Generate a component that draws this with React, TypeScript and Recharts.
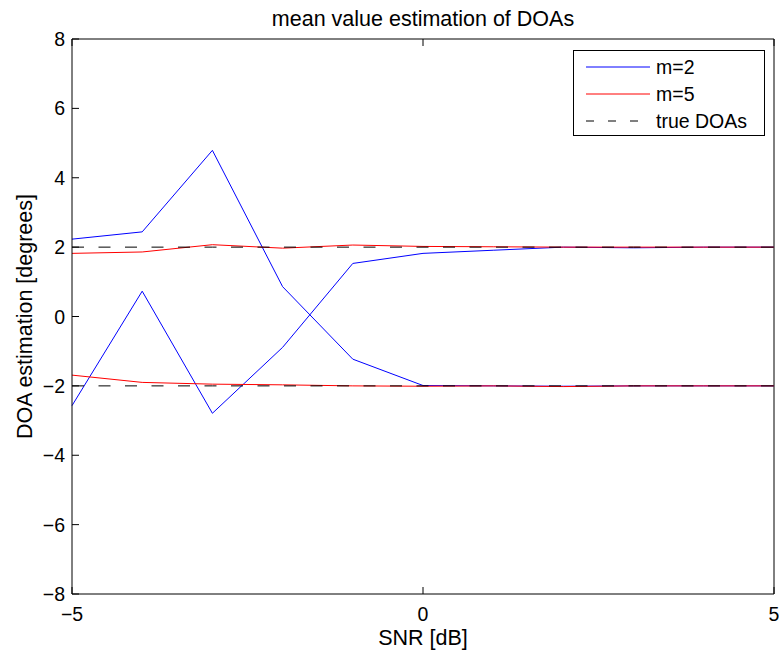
import React from 'react';
import { LineChart, Line, XAxis, YAxis } from 'recharts';

// SNR grid (dB)
const snr = [-5, -4, -3, -2, -1, 0, 1, 2, 3, 4, 5];

// Mean DOA estimates (degrees), one array per source
const m2First = [2.23, 2.44, 4.79, 0.86, -1.23, -1.99, -2.0, -2.01, -2.0, -2.0, -2.0];
const m2Second = [-2.57, 0.73, -2.79, -0.89, 1.53, 1.82, 1.91, 2.0, 1.98, 2.0, 2.0];
const m5First = [1.82, 1.86, 2.07, 1.97, 2.06, 2.02, 2.01, 2.0, 2.0, 2.0, 2.0];
const m5Second = [-1.69, -1.9, -1.95, -1.97, -2.0, -2.01, -2.0, -2.02, -2.0, -2.0, -2.0];
const trueDoas = [2, -2];

const xTicks = [-5, 0, 5];
const yTicks = [-8, -6, -4, -2, 0, 2, 4, 6, 8];

const titleText = 'mean value estimation of DOAs';
const xLabel = 'SNR [dB]';
const yLabel = 'DOA estimation [degrees]';

const legendItems = [
  { name: 'm=2', color: '#0000ff', dash: undefined as string | undefined },
  { name: 'm=5', color: '#ff0000', dash: undefined as string | undefined },
  { name: 'true DOAs', color: '#000000', dash: '8 14' },
];

const rows = snr.map((s, i) => ({
  snr: s,
  a1: m2First[i],
  a2: m2Second[i],
  b1: m5First[i],
  b2: m5Second[i],
  t1: trueDoas[0],
  t2: trueDoas[1],
}));

const FONT = '"Liberation Sans", Arial, Helvetica, sans-serif';
const TICK_FONT = 19.5;
const LABEL_FONT = 21.5;
const TICK_LEN = 7;

const W = 779;
const H = 653;
const PLOT_LEFT = 72;
const PLOT_RIGHT = 774;
const PLOT_TOP = 39;
const PLOT_BOTTOM = 594;

const fmt = (v: number) => (v < 0 ? '\u2212' + Math.abs(v) : String(v));

const BottomTick = (props: any) => {
  const { x, y, payload } = props;
  return (
    <g>
      <line x1={x} x2={x} y1={y} y2={y - TICK_LEN} stroke="#000" strokeWidth={1} />
      <text x={x} y={y + 27} textAnchor="middle" fontSize={TICK_FONT} fontFamily={FONT} fill="#000">
        {fmt(payload.value)}
      </text>
    </g>
  );
};

const TopTick = (props: any) => {
  const { x, y } = props;
  return <line x1={x} x2={x} y1={y} y2={y + TICK_LEN} stroke="#000" strokeWidth={1} />;
};

const LeftTick = (props: any) => {
  const { x, y, payload } = props;
  return (
    <g>
      <line x1={x} x2={x + TICK_LEN} y1={y} y2={y} stroke="#000" strokeWidth={1} />
      <text x={x - 7} y={y + 7} textAnchor="end" fontSize={TICK_FONT} fontFamily={FONT} fill="#000">
        {fmt(payload.value)}
      </text>
    </g>
  );
};

const RightTick = (props: any) => {
  const { x, y } = props;
  return <line x1={x} x2={x - TICK_LEN} y1={y} y2={y} stroke="#000" strokeWidth={1} />;
};

export default function App() {
  const legendLeft = 573.5;
  const legendTop = 50.5;
  const rowGap = 27;
  return (
    <div style={{ position: 'absolute', left: 0, top: 0, width: W, height: H, background: '#fff' }}>
      <LineChart
        width={W}
        height={H}
        data={rows}
        margin={{ top: 0, right: 0, bottom: 0, left: 0 }}
      >
        <XAxis
          xAxisId="bottom"
          dataKey="snr"
          type="number"
          domain={[-5, 5]}
          ticks={xTicks}
          interval={0}
          orientation="bottom"
          height={H - PLOT_BOTTOM}
          tickSize={0}
          tickMargin={0}
          tickLine={false}
          tick={BottomTick}
          axisLine={{ stroke: '#000', strokeWidth: 1 }}
        />
        <XAxis
          xAxisId="top"
          dataKey="snr"
          type="number"
          domain={[-5, 5]}
          ticks={xTicks}
          interval={0}
          orientation="top"
          height={PLOT_TOP}
          tickSize={0}
          tickMargin={0}
          tickLine={false}
          tick={TopTick}
          axisLine={{ stroke: '#000', strokeWidth: 1 }}
        />
        <YAxis
          yAxisId="left"
          type="number"
          domain={[-8, 8]}
          ticks={yTicks}
          interval={0}
          orientation="left"
          width={PLOT_LEFT}
          tickSize={0}
          tickMargin={0}
          tickLine={false}
          tick={LeftTick}
          axisLine={{ stroke: '#000', strokeWidth: 1 }}
        />
        <YAxis
          yAxisId="right"
          type="number"
          domain={[-8, 8]}
          ticks={yTicks}
          interval={0}
          orientation="right"
          width={W - PLOT_RIGHT}
          tickSize={0}
          tickMargin={0}
          tickLine={false}
          tick={RightTick}
          axisLine={{ stroke: '#000', strokeWidth: 1 }}
        />
        <Line xAxisId="bottom" yAxisId="left" type="linear" dataKey="a1" stroke="#0000ff" strokeWidth={1} dot={false} isAnimationActive={false} />
        <Line xAxisId="bottom" yAxisId="left" type="linear" dataKey="a2" stroke="#0000ff" strokeWidth={1} dot={false} isAnimationActive={false} />
        <Line xAxisId="bottom" yAxisId="left" type="linear" dataKey="b1" stroke="#ff0000" strokeWidth={1} dot={false} isAnimationActive={false} />
        <Line xAxisId="bottom" yAxisId="left" type="linear" dataKey="b2" stroke="#ff0000" strokeWidth={1} dot={false} isAnimationActive={false} />
        <Line xAxisId="bottom" yAxisId="left" type="linear" dataKey="t1" stroke="#000" strokeWidth={1} strokeDasharray="12 14.5" dot={false} isAnimationActive={false} />
        <Line xAxisId="bottom" yAxisId="left" type="linear" dataKey="t2" stroke="#000" strokeWidth={1} strokeDasharray="12 14.5" dot={false} isAnimationActive={false} />
      </LineChart>
      <svg
        width={W}
        height={H}
        style={{ position: 'absolute', left: 0, top: 0, pointerEvents: 'none' }}
      >
        <text x={(PLOT_LEFT + PLOT_RIGHT) / 2} y={26} textAnchor="middle" fontSize={LABEL_FONT} fontFamily={FONT} fill="#000">
          {titleText}
        </text>
        <text x={(PLOT_LEFT + PLOT_RIGHT) / 2} y={645} textAnchor="middle" fontSize={LABEL_FONT} fontFamily={FONT} fill="#000">
          {xLabel}
        </text>
        <text
          x={32}
          y={(PLOT_TOP + PLOT_BOTTOM) / 2}
          textAnchor="middle"
          fontSize={LABEL_FONT}
          fontFamily={FONT}
          fill="#000"
          transform={`rotate(-90 32 ${(PLOT_TOP + PLOT_BOTTOM) / 2})`}
        >
          {yLabel}
        </text>
        <rect x={legendLeft} y={legendTop} width={191} height={85} fill="#fff" stroke="#000" strokeWidth={1} />
        {legendItems.map((it, i) => {
          const cy = legendTop + 16.5 + i * rowGap;
          return (
            <g key={it.name}>
              <line x1={586} x2={650} y1={cy} y2={cy} stroke={it.color} strokeWidth={1} strokeDasharray={it.dash} />
              <text x={656} y={cy + 7} fontSize={TICK_FONT} fontFamily={FONT} fill="#000">
                {it.name}
              </text>
            </g>
          );
        })}
      </svg>
    </div>
  );
}
